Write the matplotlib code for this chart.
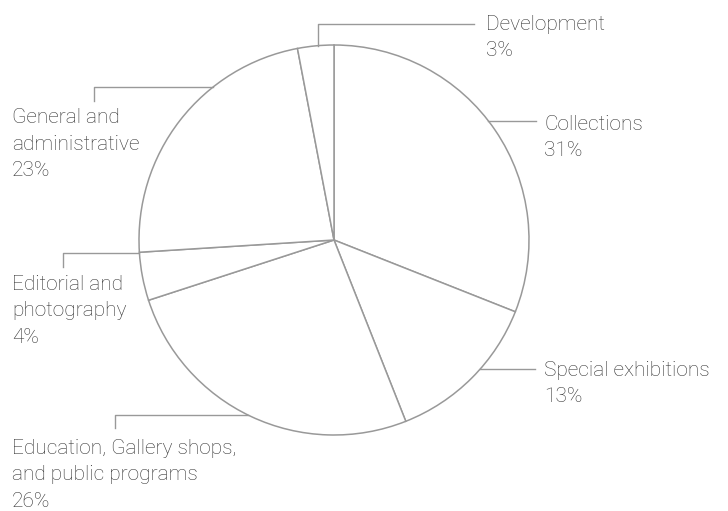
import numpy as np
import matplotlib.pyplot as plt

# Shares of expenses, clockwise from the top
labels = ['Collections', 'Special exhibitions',
          'Education, Gallery shops,\nand public programs',
          'Editorial and\nphotography', 'General and\nadministrative', 'Development']
shares = [31, 13, 26, 4, 23, 3]

W, H = 728, 511
cx, cy, r = 334, 240, 195
line_col = '#999999'
text_col = '#333333'

fig = plt.figure(figsize=(W / 100, H / 100), dpi=100)
ax = fig.add_axes([0, 0, 1, 1])

# y axis is flipped below, so counterclock=True draws clockwise on screen
wedges, _ = ax.pie(shares, center=(cx, cy), radius=r, startangle=-90, counterclock=True,
                   wedgeprops=dict(facecolor='white', edgecolor=line_col, linewidth=1.1))
ax.set_xlim(0, W)
ax.set_ylim(H, 0)
ax.set_aspect('equal')
ax.axis('off')


def edge_x(y, side):
    dx = np.sqrt(r ** 2 - (y - cy) ** 2)
    return cx + side * dx


def edge_y(x):
    dy = np.sqrt(r ** 2 - (x - cx) ** 2)
    return cy - dy


lw = 1.0
# right side, straight leaders
for i, ly, xend, tpos in [(0, 121, 536, (544, 115)), (1, 369, 535, (544, 361))]:
    ax.plot([edge_x(ly, 1), xend], [ly, ly], color=line_col, lw=lw)
    ax.text(*tpos, f"{labels[i]}\n{shares[i]}%", ha='left', va='top')

# left side, elbow leaders
for i, ly, xend, ydrop, tpos in [(2, 415, 115, 428, (12, 439)),
                                 (3, 253, 63, 267, (12, 275)),
                                 (4, 87, 94, 101, (12, 108))]:
    ax.plot([edge_x(ly, -1), xend, xend], [ly, ly, ydrop], color=line_col, lw=lw)
    ax.text(*tpos, f"{labels[i]}\n{shares[i]}%", ha='left', va='top')

# top leader for the small slice
x0 = 318
ax.plot([x0, x0, 474], [edge_y(x0), 24, 24], color=line_col, lw=lw)
ax.text(486, 15, f"{labels[5]}\n{shares[5]}%", ha='left', va='top')

for t in ax.texts:
    t.set_fontfamily('Roboto')
    t.set_fontweight('light')
    t.set_fontsize(15)
    t.set_color(text_col)
    t.set_linespacing(1.5)

fig.savefig('out.png', dpi=100)
